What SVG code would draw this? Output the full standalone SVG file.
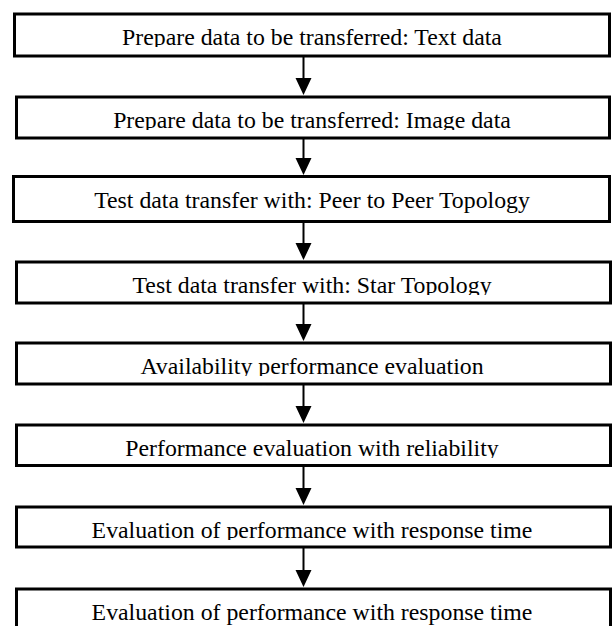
<svg xmlns="http://www.w3.org/2000/svg" width="614" height="626" viewBox="0 0 614 626">
<style>
.box{fill:#fff;stroke:#000;stroke-width:3}
.lbl{font-family:'Liberation Serif','Times New Roman','DejaVu Serif',serif;font-size:23.8px;fill:#000;text-anchor:middle}
.conn line{stroke:#000;stroke-width:2}
.conn path{fill:#000;stroke:none}
</style>
<defs>
<clipPath id="c1"><rect x="0" y="0" width="614" height="47"/></clipPath>
<clipPath id="c2"><rect x="0" y="100" width="614" height="30"/></clipPath>
<clipPath id="c4"><rect x="0" y="265" width="614" height="30"/></clipPath>
<clipPath id="c5"><rect x="0" y="346" width="614" height="30"/></clipPath>
<clipPath id="c6"><rect x="0" y="428" width="614" height="30"/></clipPath>
<clipPath id="c7"><rect x="0" y="510" width="614" height="30"/></clipPath>
</defs>
<rect width="614" height="626" fill="#fff"/>
<g id="n1"><rect class="box" x="14.5" y="14" width="595" height="42"/><text class="lbl" font-family="Liberation Serif, serif" x="312" y="45" clip-path="url(#c1)">Prepare data to be transferred: Text data</text></g>
<g id="n2"><rect class="box" x="16.5" y="97" width="593" height="41"/><text class="lbl" font-family="Liberation Serif, serif" x="312" y="128" clip-path="url(#c2)">Prepare data to be transferred: Image data</text></g>
<g id="n3"><rect class="box" x="13.5" y="176.5" width="596" height="45"/><text class="lbl" font-family="Liberation Serif, serif" x="312" y="208">Test data transfer with: Peer to Peer Topology</text></g>
<g id="n4"><rect class="box" x="16.5" y="262" width="594" height="41"/><text class="lbl" font-family="Liberation Serif, serif" x="312" y="293" clip-path="url(#c4)">Test data transfer with: Star Topology</text></g>
<g id="n5"><rect class="box" x="16.5" y="343" width="594" height="41"/><text class="lbl" font-family="Liberation Serif, serif" x="312" y="374" clip-path="url(#c5)">Availability performance evaluation</text></g>
<g id="n6"><rect class="box" x="16.5" y="425" width="594" height="40.5"/><text class="lbl" font-family="Liberation Serif, serif" x="312" y="456" clip-path="url(#c6)">Performance evaluation with reliability</text></g>
<g id="n7"><rect class="box" x="16.5" y="507" width="594" height="40"/><text class="lbl" font-family="Liberation Serif, serif" x="312" y="538" clip-path="url(#c7)">Evaluation of performance with response time</text></g>
<g id="n8"><rect class="box" x="16.5" y="589" width="594" height="60"/><text class="lbl" font-family="Liberation Serif, serif" x="312" y="620">Evaluation of performance with response time</text></g>
<g class="conn" id="connectors">
<line x1="303.5" y1="57" x2="303.5" y2="80"/><path d="M295.5,78 L311.5,78 L303.5,95 Z"/>
<line x1="303.5" y1="139" x2="303.5" y2="160"/><path d="M295.5,158 L311.5,158 L303.5,175 Z"/>
<line x1="303.5" y1="223" x2="303.5" y2="245"/><path d="M295.5,243 L311.5,243 L303.5,260 Z"/>
<line x1="303.5" y1="304" x2="303.5" y2="326"/><path d="M295.5,324 L311.5,324 L303.5,341 Z"/>
<line x1="303.5" y1="385" x2="303.5" y2="408"/><path d="M295.5,406 L311.5,406 L303.5,423 Z"/>
<line x1="303.5" y1="467" x2="303.5" y2="490"/><path d="M295.5,488 L311.5,488 L303.5,505 Z"/>
<line x1="303.5" y1="548" x2="303.5" y2="572"/><path d="M295.5,570 L311.5,570 L303.5,587 Z"/>
</g>
</svg>
